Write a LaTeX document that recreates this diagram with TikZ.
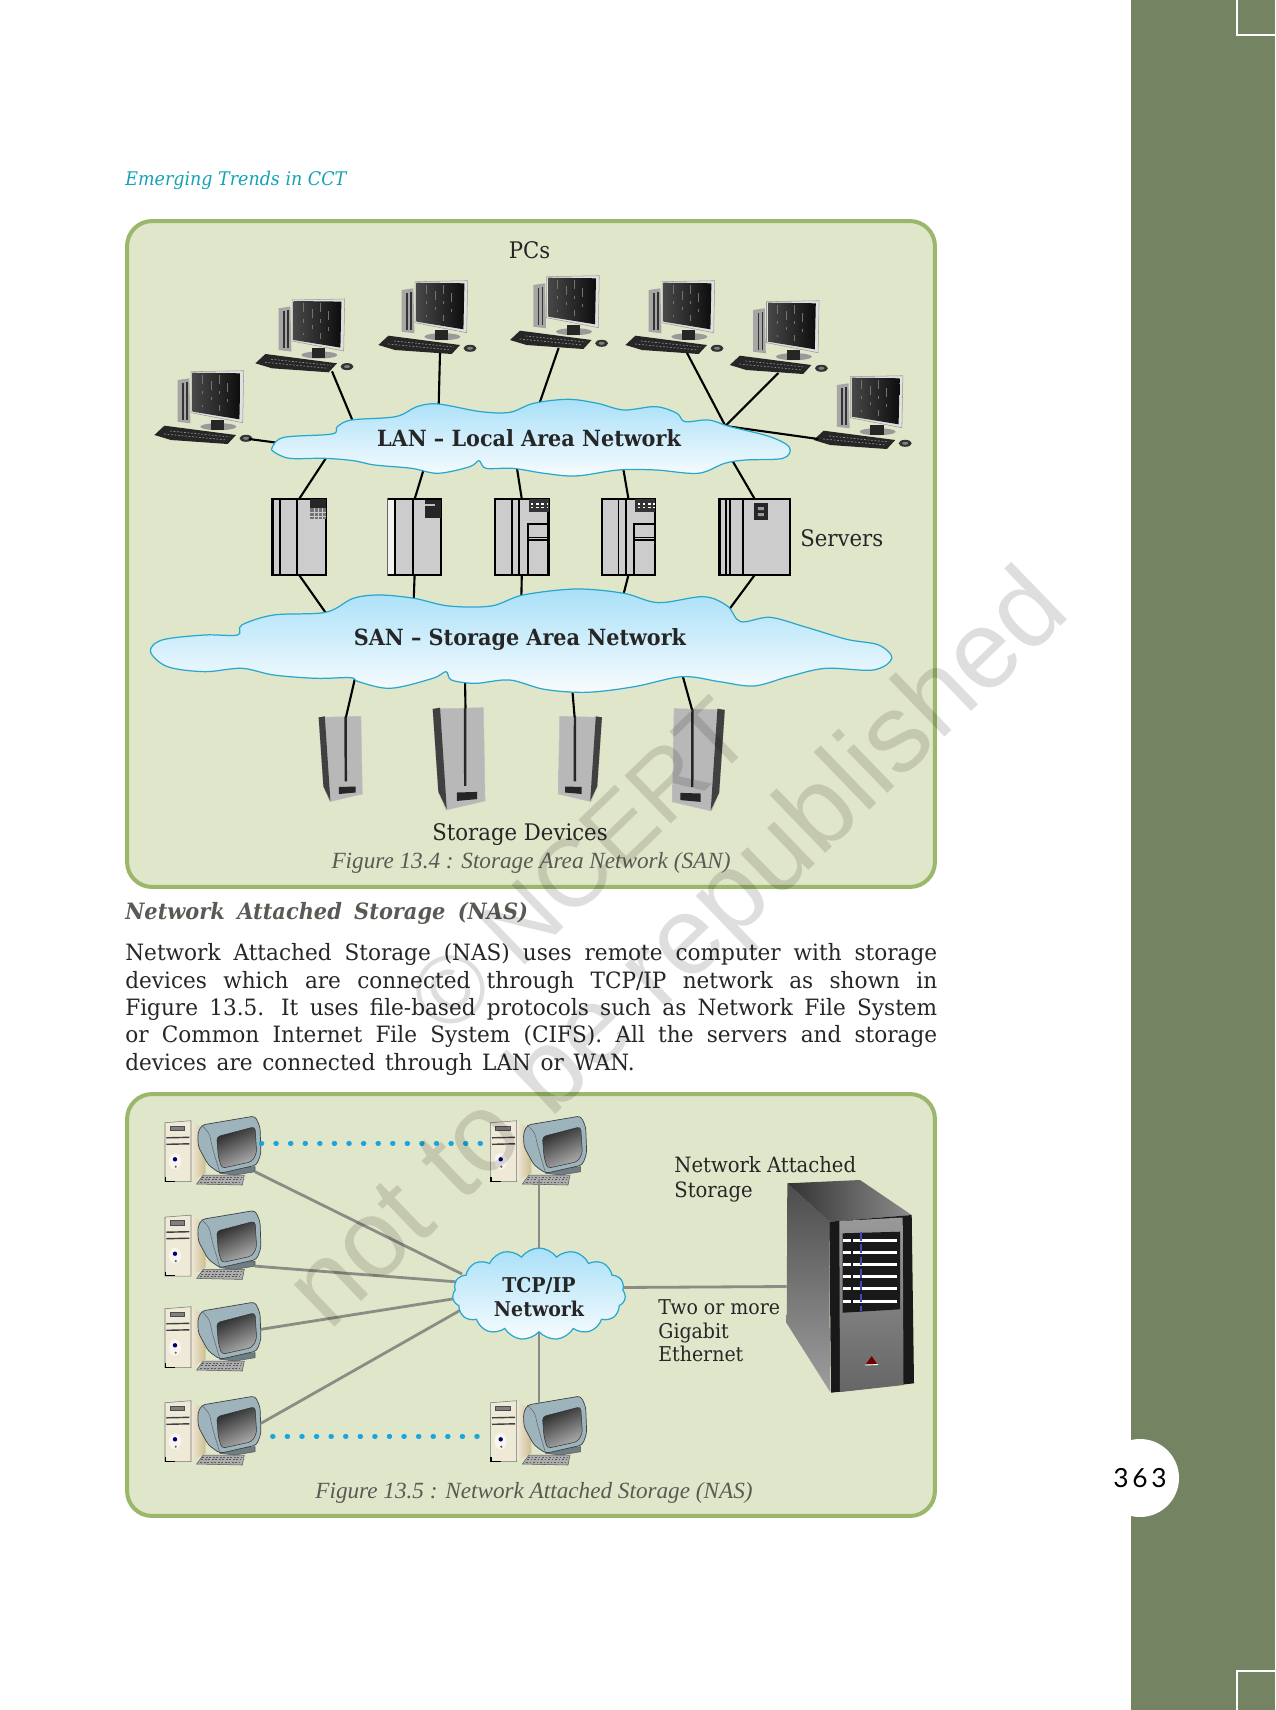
\documentclass[tikz,border=0pt]{standalone}
\usepackage{fontspec}
\usetikzlibrary{shapes.symbols}
\setmainfont[FakeStretch=0.93]{DejaVu Serif}
\newfontfamily\bodyfont[FakeStretch=0.96]{DejaVu Serif}
\newfontfamily\capfont{Liberation Serif}
\newfontfamily\markfont{Liberation Sans}
\newfontfamily\pagefont[LetterSpace=14]{Lato}

\definecolor{pagegreen}{HTML}{748463}
\definecolor{cardfill}{HTML}{E0E6C9}
\definecolor{cardline}{HTML}{9AB76B}
\definecolor{cloudline}{HTML}{2AA7CF}
\definecolor{cloudtop}{HTML}{A9E0F8}
\definecolor{cloudlow}{HTML}{F8FCFE}
\definecolor{wiregray}{HTML}{8C8C86}
\definecolor{dotblue}{HTML}{1BA5DC}
\definecolor{headteal}{HTML}{12A3B5}
\definecolor{capgray}{HTML}{5A5A55}
\definecolor{monblue}{HTML}{9DB4BC}
\definecolor{beige}{HTML}{EFE9D8}
\definecolor{towertan}{HTML}{CDBD90}

\tikzset{
  cardbox/.style={draw=cardline, fill=cardfill, line width=2.3pt, rounded corners=0.5cm, minimum width=16.16cm, outer sep=0pt},
  wire/.style={black, line width=1.2pt},
  graywire/.style={wiregray, line width=1.6pt},
  thinwire/.style={wiregray, line width=1.1pt},
  dotwire/.style={dotblue, line width=2.5pt, line cap=round, dash pattern=on 0.6pt off 7.7pt},
  cloudfill/.style={draw=cloudline, line width=0.7pt, top color=cloudtop, bottom color=cloudlow},
  label/.style={font=\fontsize{13}{14}\selectfont, inner sep=0pt, text=black!85},
  boldlabel/.style={font=\fontsize{12.7}{14}\selectfont\bfseries, inner sep=0pt, text=black!85},
  caption/.style={font=\capfont\itshape\fontsize{13.2}{14}\selectfont, inner sep=0pt, text=capgray},
  rackbody/.style={draw=black, line width=1.3pt, fill=black!20, minimum height=1.514cm, inner sep=0pt, outer sep=0pt},
  rackline/.style={black, line width=1.1pt},
  streak/.style={black!55, line width=0.25pt, dash pattern=on 5pt off 4pt on 2pt off 6pt},
  pics/deskpc/.style={code={
    \fill[black!35] (-38.3,-65) -- (-26.6,-66.7) -- (-25.6,-21.7) -- (-38.3,-23.3) -- cycle;
    \draw[black!80, line width=1pt] (-33,-62) -- (-33,-25) (-29,-63) -- (-29,-25);
    \fill[black!40] (2.4,-18.3) ellipse (18 and 3.5);
    \fill[black!85] (-4.9,-25) rectangle (8.4,-15);
    \fill[black!12, draw=black!40, line width=0.3pt] (-24.9,-73.3) -- (27.7,-74.3) -- (26.7,-22.3) -- (-24.9,-32.3) -- cycle;
    \shade[left color=black!72, right color=black!95] (-23.3,-72.3) -- (24.4,-71.7) -- (23.4,-25.7) -- (-23.3,-33.3) -- cycle;
    \draw[streak] (-14,-70) -- (-14,-38) (-5,-64) -- (-5,-36) (3,-70) -- (3,-34) (11,-62) -- (11,-34);
    \fill[black!85] (-61.6,-10) -- (-51.6,-19.3) -- (20,-10) -- (11.7,-1) -- (-45,-5) -- cycle;
    \draw[black!45, line width=0.4pt, dash pattern=on 1pt off 1pt] (-52,-11) -- (11,-5) (-46,-14) -- (14,-8);
    \fill[black!80] (30,-6.7) circle (6.5 and 3.5);
    \fill[black!50] (30,-6.7) circle (3 and 1.5);
    \coordinate (-ka) at (-13,-2);
    \coordinate (-kb) at (0,-2);
    \coordinate (-kc) at (15,-2);
    \coordinate (-kl) at (-57,-11);
    \coordinate (-mouse) at (33,-6);
  }},
  pics/rackA/.style={code={
    \node[rackbody, minimum width=1.066cm] (-box) at (0,0) {};
    \draw[rackline] (-18.7,-37.8) -- (-18.7,37.8) (-2.1,-37.8) -- (-2.1,37.8);
    \fill[black!85] (11.2,-37.8) rectangle (26.7,-28.8);
    \fill[black!55] (11.2,-28.8) rectangle (26.7,-17.8);
    \draw[black!20, line width=0.3pt] (15,-28.8) -- (15,-17.8) (19,-28.8) -- (19,-17.8) (23,-28.8) -- (23,-17.8) (11.2,-25) -- (26.7,-25) (11.2,-21) -- (26.7,-21);
  }},
  pics/rackB/.style={code={
    \node[rackbody, minimum width=1.066cm, draw=black!60] (-box) at (0,0) {};
    \fill[black!5] (-26.6,-37.8) rectangle (-21,37.8);
    \draw[rackline] (-19.7,-37.8) -- (-19.7,37.8) (-1.6,-37.8) -- (-1.6,37.8)
      (-26.6,-37.8) -- (26.6,-37.8) -- (26.6,37.8) -- (-26.6,37.8);
    \fill[black!85] (10.7,-37) rectangle (26.7,-18.8);
    \fill[black!25] (10.7,-33.5) rectangle (20,-31);
  }},
  pics/rackC/.style={code={
    \node[rackbody, minimum width=1.066cm] (-box) at (0,0) {};
    \draw[rackline] (-10,-37.8) -- (-10,37.8) (-2.7,-37.8) -- (-2.7,37.8);
    \fill[black!80] (6.9,-37.8) rectangle (26.7,-25.5);
    \draw[white, line width=0.9pt, dash pattern=on 1.5pt off 1.5pt] (9,-33) -- (26,-33) (9,-29.5) -- (26,-29.5);
    \draw[rackline] (5.9,37.8) -- (5.9,-12.8) -- (26.7,-12.8);
    \draw[black, line width=0.8pt] (5.9,0.5) -- (26.7,0.5) (5.9,2.8) -- (26.7,2.8);
  }},
  pics/rackD/.style={code={
    \node[rackbody, minimum width=1.408cm] (-box) at (0,0) {};
    \draw[rackline] (-28.8,-37.8) -- (-28.8,37.8) (-25,-37.8) -- (-25,37.8) (-11.7,-37.8) -- (-11.7,37.8);
    \fill[black!85] (-0.5,-33.8) rectangle (12.8,-17);
    \fill[black!40] (3,-30) rectangle (9,-27) (3,-24) rectangle (9,-21);
  }},
  pics/storagebox/.style={code={
    \shade[left color=black!28, middle color=white, right color=black!28, draw=black!25, line width=0.3pt] (-22.3,1.4) -- (19.9,0.3) -- (21.3,78) -- (-11.2,85.6) -- (-17.6,70.4) -- cycle;
    \fill[black!75] (-22.3,1.4) -- (-16.2,0.3) -- (-10.6,85) -- (-17.6,70.4) -- cycle;
    \draw[black!85, line width=1.4pt] (4.6,0.8) -- (4.8,65.4);
    \fill[black!85] (-2.1,71) -- (14.6,70.5) -- (14.6,76.5) -- (-2.1,78) -- cycle;
    \coordinate (-top) at (5,1);
  }},
  pics/beigepc/.style={code={
    \shade[left color=beige, right color=towertan] (25.7,3.4) -- (39.7,12.7) -- (40.4,56) -- (25.7,64.4) -- cycle;
    \filldraw[fill=beige, draw=black!55, line width=0.3pt] (-0.3,5.4) -- (25.7,3.4) -- (25.7,64.4) -- (-0.3,64.4) -- cycle;
    \filldraw[fill=black!50, draw=black!70, line width=0.3pt] (4.7,8.7) rectangle (19,13.3);
    \draw[black!75, line width=0.8pt] (1,20.5) -- (24,20) (1,27) -- (24,26.5);
    \fill[white!60!beige] (9.7,44) ellipse (6 and 8);
    \fill[blue!45!black] (9.7,42) circle (2.2);
    \fill[black!60] (10.4,49.4) circle (1.2);
    \draw[black, line width=0.8pt] (0,60) -- (0,64) -- (10,64);
    \filldraw[fill=black!32, draw=black!65, line width=0.3pt] (33,64.4) -- (38,57.7) -- (79,57.7) -- (77,67.7) -- (31.4,66.7) -- cycle;
    \draw[black!65, line width=0.5pt, dash pattern=on 1pt off 1pt] (37,60) -- (76,60) (36,62.5) -- (75,62.5) (35,65) -- (74,65);
    \filldraw[fill=monblue!70!black, draw=black!65, line width=0.3pt] (51.4,51) -- (89.7,49.4) -- (89.7,54.4) -- (69.7,57.7) -- (54.7,56) -- cycle;
    \filldraw[fill=monblue, draw=black!75, line width=0.4pt, rounded corners=2pt] (36.4,7.7) -- (89.7,-1.3) -- (94.7,9.4) -- (95.7,36) -- (91.4,47.7) -- (54.7,56) -- (43,47.7) -- (33,29.4) -- (32.4,16) -- cycle;
    \draw[black!60, line width=0.3pt, rounded corners=2pt] (36.4,7.7) -- (44,16) -- (47,30) -- (54.7,56);
    \shade[top color=black!85, bottom color=black!30, shading angle=25, draw=black!80, line width=0.3pt, rounded corners=2pt] (51.4,19.4) -- (89.7,9.4) -- (91.4,36) -- (86.4,44.4) -- (56.4,51) -- (53,39.4) -- cycle;
    \coordinate (-tr) at (89.7,54.4);
    \coordinate (-dot) at (95.7,26);
    \coordinate (-far) at (107,39);
    \coordinate (-south) at (48,62);
    \coordinate (-north) at (48,6);
    \coordinate (-west) at (-3,26);
    \coordinate (-wlow) at (-7,39);
  }},
}

\begin{document}
\begin{tikzpicture}[x=0.02cm, y=-0.02cm]
    \useasboundingbox (0,0) rectangle (1275,1710);
    \fill[white] (0,0) rectangle (1275,1710);

    % Page band
    \fill[pagegreen] (1131,0) rectangle (1275,1710);
    \draw[white, line width=0.8pt] (1237,0) -- (1237,35) -- (1275,35);
    \draw[white, line width=0.8pt] (1237,1710) -- (1237,1671) -- (1275,1671);
    \node[circle, fill=white, minimum size=1.56cm, inner sep=0pt] (pageno) at (1140,1478) {\pagefont\fontsize{15}{15}\selectfont 363};

    % Texts outside the figures
    \node[anchor=west, inner sep=0pt, text=headteal, font=\itshape\fontsize{10.7}{14}\selectfont] (head) at (125,180.5) {Emerging Trends in CCT};
    \node[anchor=west, inner sep=0pt, text=capgray, font=\bfseries\itshape\fontsize{12.8}{14}\selectfont] (nashead) at (125,913) {\spaceskip=0.55em Network Attached Storage (NAS)};
    \node[anchor=west, inner sep=0pt, text width=16.24cm, align=justify, text=black!85, font=\bodyfont\fontsize{12.8}{15.55}\selectfont] (para) at (125,1009.5)
      {\spaceskip=0.43em plus 0.5em minus 0.1em
       Network Attached Storage (NAS) uses remote computer with storage\linebreak
       devices which are connected through TCP/IP network as shown in\linebreak
       Figure 13.5. It uses file-based protocols such as Network File System\linebreak
       or Common Internet File System (CIFS). All the servers and storage\linebreak
       devices are connected through LAN or WAN.};

    % Figure 13.4
    \node[cardbox, minimum height=13.32cm] (cardsan) at (531,554) {};

    % Nodes
    \pic (pc1) at (216,445) {deskpc};
    \pic (pc2) at (317,373.3) {deskpc};
    \pic (pc3) at (440,355) {deskpc};
    \pic (pc4) at (571.6,350) {deskpc};
    \pic (pc5) at (687,355) {deskpc};
    \pic (pc6) at (791.4,375) {deskpc};
    \pic (pc7) at (875.2,450) {deskpc};

    \pic (sv1) at (299,537) {rackA};
    \pic (sv2) at (414.6,537) {rackB};
    \pic (sv3) at (521.8,537) {rackC};
    \pic (sv4) at (628.5,537) {rackC};
    \pic (sv5) at (754.8,537) {rackD};

    \pic (sd1) at (341,716) {storagebox};
    \pic[scale=1.2] (sd2) at (459.5,707.3) {storagebox};
    \pic[xscale=-1] (sd3) at (579.6,716) {storagebox};
    \pic[xscale=-1.2, yscale=1.2] (sd4) at (698,708.3) {storagebox};

    % Cloud ends
    \coordinate (lanhub) at (725.4,426);
    \coordinate (lana) at (279.3,443);
    \coordinate (lanb) at (354,424);
    \coordinate (lanc) at (438.6,409);
    \coordinate (land) at (538.2,407);
    \coordinate (lan1) at (328,455);
    \coordinate (lan2) at (424.7,466);
    \coordinate (lan3) at (516.3,464);
    \coordinate (lan4) at (622.8,466);
    \coordinate (lan5) at (731.4,459);
    \coordinate (san1) at (328,616);
    \coordinate (san2) at (413.7,600);
    \coordinate (san3) at (521.3,599);
    \coordinate (san4) at (622.8,597);
    \coordinate (san5) at (728,611);
    \coordinate (sanp) at (356,674);
    \coordinate (sanq) at (465,679);
    \coordinate (sanr) at (572,686);
    \coordinate (sans) at (681.6,672);

    % Arrows
    \draw[wire] (pc1-mouse) -- (lana);
    \draw[wire] (pc2-kc) -- (lanb);
    \draw[wire] (pc3-kb) -- (lanc);
    \draw[wire] (pc4-ka) -- (land);
    \draw[wire] (pc5-kb) -- (lanhub);
    \draw[wire] (pc6-ka) -- (lanhub);
    \draw[wire] (pc7-kl) -- (lanhub);
    \draw[wire] (sv1-box.north) -- (lan1);
    \draw[wire] (sv2-box.north) -- (lan2);
    \draw[wire] (sv3-box.north) -- (lan3);
    \draw[wire] (sv4-box.north) -- (lan4);
    \draw[wire] (sv5-box.north) -- (lan5);
    \draw[wire] (sv1-box.south) -- (san1);
    \draw[wire] (sv2-box.south) -- (san2);
    \draw[wire] (sv3-box.south) -- (san3);
    \draw[wire] (sv4-box.south) -- (san4);
    \draw[wire] (sv5-box.south) -- (san5);
    \draw[wire] (sd1-top) -- (sanp);
    \draw[wire] (sd2-top) -- (sanq);
    \draw[wire] (sd3-top) -- (sanr);
    \draw[wire] (sd4-top) -- (sans);

    % Clouds
    \begin{scope}[shift={(119.7,210)}, xscale=0.5307, yscale=0.3333]
      \draw[cloudfill] plot[smooth cycle, tension=0.55] coordinates {(288,710) (310,682) (400,672) (410,650) (437,630) (520,620) (560,590) (600,582) (680,605) (735,607) (780,580) (845,568) (900,580) (950,600) (1010,590) (1050,610) (1065,635) (1110,630) (1150,650) (1225,680) (1262,712) (1250,745) (1180,750) (1140,760) (1090,790) (1010,780) (940,780) (860,798) (800,790) (740,775) (690,775) (677,752) (660,770) (600,790) (550,775) (480,765) (440,752) (385,745) (320,745) (290,725)};
    \end{scope}
    \begin{scope}[shift={(119.7,580)}, xscale=0.5307, yscale=0.3333]
      \draw[cloudfill] plot[smooth cycle, tension=0.55] coordinates {(58,215) (80,180) (160,165) (222,165) (230,135) (290,105) (388,97) (440,55) (490,45) (555,55) (620,78) (700,78) (760,45) (860,27) (950,40) (1015,68) (1100,50) (1145,78) (1170,125) (1225,112) (1290,140) (1370,178) (1430,195) (1455,235) (1420,270) (1330,265) (1260,290) (1195,318) (1130,305) (1060,290) (970,320) (880,337) (800,328) (735,300) (670,310) (625,300) (615,275) (590,295) (510,325) (450,305) (435,293) (370,295) (290,285) (230,265) (160,275) (90,260)};
    \end{scope}

    % Labels
    \node[boldlabel] (lan) at (529,438) {LAN -- Local Area Network};
    \node[boldlabel] (san) at (520,639.5) {SAN -- Storage Area Network};
    \node[label] (pcs) at (529.5,250) {PCs};
    \node[label, anchor=west] (servers) at (800,538) {Servers};
    \node[label] (devices) at (520,835) {Storage Devices};
    \node[caption] (capsan) at (531,863) {Figure 13.4 : Storage Area Network (SAN)};

    % Figure 13.5
    \node[cardbox, minimum height=8.44cm] (cardnas) at (531,1305) {};

    % Nodes
    \pic (bp1) at (165.3,1117.3) {beigepc};
    \pic (bp2) at (165.3,1211.7) {beigepc};
    \pic (bp3) at (165.3,1303.3) {beigepc};
    \pic (bp4) at (165.3,1397.3) {beigepc};
    \pic (bp5) at (491,1117.3) {beigepc};
    \pic (bp6) at (491,1397.3) {beigepc};

    % Storage unit
    \shade[top color=black!70, bottom color=black!38] (787.3,1183.3) -- (829.3,1221.7) -- (830,1391.7) -- (786.7,1323.3) -- cycle;
    \shade[left color=black!80, right color=black!45] (787.3,1183.3) -- (860,1180) -- (911.7,1215) -- (829.3,1221.7) -- cycle;
    \fill[black!90] (829.3,1221.7) -- (911.7,1215) -- (914,1383.3) -- (831,1392.7) -- cycle;
    \shade[top color=black!40, bottom color=black!60] (839.3,1221) -- (902.7,1217.5) -- (903.5,1385) -- (840,1392) -- cycle;
    \fill[black!90] (842.7,1233.3) -- (900,1231.7) -- (900,1309.3) -- (842.7,1312.7) -- cycle;
    \foreach \ypos in {1240.7,1252.3,1264.3,1276.7,1288.3,1301}
      \fill[white] (842.7,\ypos-1.5) rectangle (896.7,\ypos+1.5);
    \foreach \ypos in {1240.7,1252.3,1264.3,1276.7,1288.3,1301}
      \fill[black!90] (851,\ypos-1.5) rectangle (852.5,\ypos+1.5);
    \draw[blue!45!gray, line width=1.5pt, dash pattern=on 5pt off 2pt] (861,1232) -- (861,1311);
    \fill[red!45!black] (871.7,1356) -- (877,1364) -- (866,1364) -- cycle;
    \draw[white, line width=0.5pt] (865,1365) -- (878,1364.5);
    \node[inner sep=0pt, minimum size=0pt] (storage) at (787,1286.5) {};

    % Cloud ends
    \coordinate (tcpa) at (462,1274);
    \coordinate (tcpb) at (465,1282.5);
    \coordinate (tcpc) at (465,1297);
    \coordinate (tcpd) at (466,1307);
    \coordinate (tcpe) at (618,1287.5);
    \coordinate (tcpn) at (539,1258);
    \coordinate (tcps) at (539,1332);

    % Arrows
    \draw[graywire] (bp1-tr) -- (tcpa);
    \draw[graywire] (bp2-tr) -- (tcpb);
    \draw[graywire] (bp3-dot) -- (tcpc);
    \draw[graywire] (bp4-dot) -- (tcpd);
    \draw[thinwire] (bp5-south) -- (tcpn);
    \draw[thinwire] (bp6-north) -- (tcps);
    \draw[graywire] (tcpe) -- (storage);
    \draw[dotwire] (bp1-dot) -- (bp5-west);
    \draw[dotwire] (bp4-far) -- (bp6-wlow);

    % Cloud
    \node[cloud, cloud puffs=15, cloud puff arc=110, aspect=1.8, minimum width=3.46cm, minimum height=1.84cm, inner sep=0pt, outer sep=0pt, draw=cloudline, line width=0.7pt, top color=cloudtop, bottom color=cloudlow] (tcpip) at (539,1294) {};
    \node[boldlabel, align=center, font=\fontsize{11.6}{13.6}\selectfont\bfseries] (tcplabel) at (539,1297) {TCP/IP\\Network};

    % Labels
    \node[label, anchor=west, align=left, font=\fontsize{12}{14.3}\selectfont] (naslabel) at (674,1179) {Network Attached\\Storage};
    \node[label, anchor=west, align=left, font=\fontsize{11.6}{13.4}\selectfont] (gigalabel) at (658,1331) {Two or more\\Gigabit\\Ethernet};
    \node[caption] (capnas) at (534,1493) {Figure 13.5 : Network Attached Storage (NAS)};

    % Watermark
    \node[rotate=44, opacity=0.13, font=\markfont\fontsize{63}{63}\selectfont] (markb) at (681,953) {not to be republished};
    \node[rotate=44, opacity=0.13, font=\markfont\fontsize{55}{55}\selectfont] (marka) at (580,866) {© NCERT};
\end{tikzpicture}
\end{document}
